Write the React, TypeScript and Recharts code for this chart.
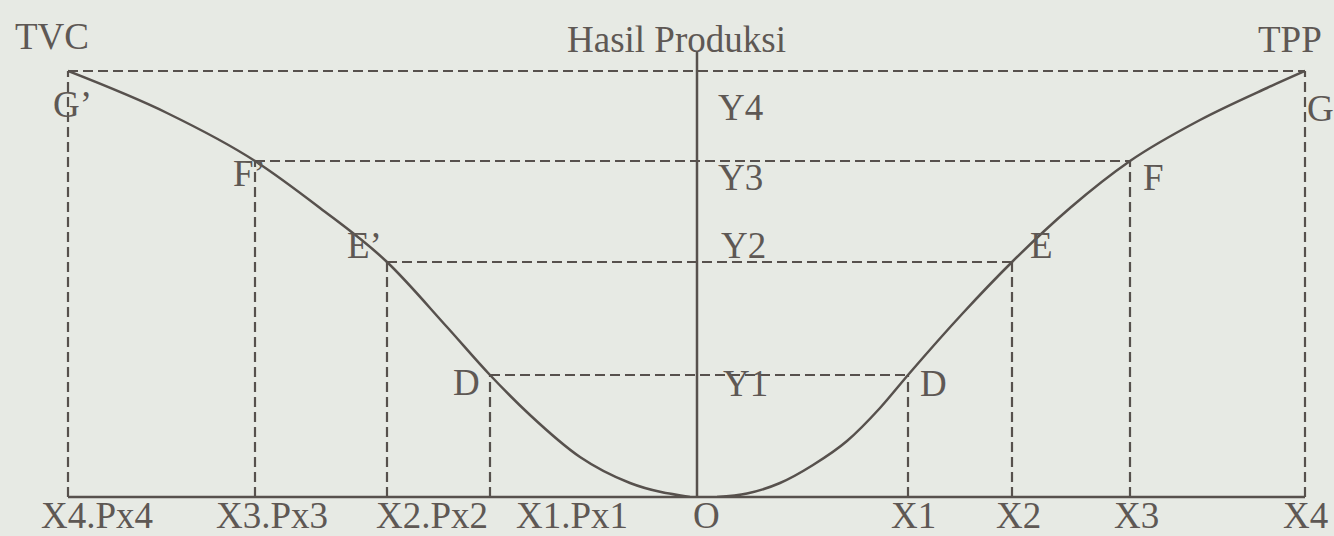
import { ComposedChart, Line, XAxis, YAxis, ReferenceLine, ReferenceDot } from "recharts";

// levels on the output axis (Hasil Produksi)
const Y1 = 12.2;
const Y2 = 23.5;
const Y3 = 33.6;
const Y4 = 42.6;
const Y_TOP = 44.5;

// input levels, left side (cost = X.Px) and right side (X)
const costX = [-62.9, -44.2, -31.0, -20.7]; // X4.Px4, X3.Px3, X2.Px2, X1.Px1
const inputX = [60.8, 43.3, 31.5, 21.1]; // X4, X3, X2, X1
const levels = [Y4, Y3, Y2, Y1];

// TVC curve (left half)
const tvcCurve = [
  { x: -62.9, y: 42.6 },
  { x: -53.0, y: 38.4 },
  { x: -44.2, y: 33.6 },
  { x: -37.7, y: 28.9 },
  { x: -31.0, y: 23.5 },
  { x: -25.0, y: 17.0 },
  { x: -20.7, y: 12.2 },
  { x: -16.7, y: 8.2 },
  { x: -11.7, y: 4.0 },
  { x: -6.7, y: 1.4 },
  { x: -0.7, y: 0 },
];

// TPP curve (right half)
const tppCurve = [
  { x: 2.0, y: 0 },
  { x: 5.0, y: 0.35 },
  { x: 8.3, y: 1.4 },
  { x: 11.6, y: 3.2 },
  { x: 15.0, y: 5.6 },
  { x: 18.3, y: 8.9 },
  { x: 21.1, y: 12.2 },
  { x: 26.6, y: 18.4 },
  { x: 31.5, y: 23.5 },
  { x: 37.3, y: 28.9 },
  { x: 43.3, y: 33.6 },
  { x: 50.3, y: 37.7 },
  { x: 57.0, y: 40.9 },
  { x: 60.8, y: 42.6 },
];

const bottomTicks = [...costX, 0, ...inputX.slice().reverse()];
const bottomLabels: Record<string, string> = {
  "-62.9": "X4.Px4",
  "-44.2": "X3.Px3",
  "-31": "X2.Px2",
  "-20.7": "X1.Px1",
  "0": "O",
  "21.1": "X1",
  "31.5": "X2",
  "43.3": "X3",
  "60.8": "X4",
};
// horizontal shift of each bottom label from its tick (px)
const bottomShift: Record<string, number> = {
  "-62.9": -27,
  "-44.2": -39,
  "-31": -11,
  "-20.7": 26,
  "0": -4,
  "21.1": -17,
  "31.5": -16,
  "43.3": -16,
  "60.8": -22,
};

// point labels: anchor in data units, text offset in px
const pointLabels = [
  { text: "TVC", x: -62.9, y: Y4, dx: -53, dy: -22 },
  { text: "Hasil Produksi", x: 0, y: Y_TOP, dx: -130, dy: 0 },
  { text: "TPP", x: 60.8, y: Y4, dx: -47, dy: -19 },
  { text: "G\u2019", x: -62.9, y: Y4, dx: -15, dy: 46 },
  { text: "F\u2019", x: -44.2, y: Y3, dx: -22, dy: 25 },
  { text: "E\u2019", x: -31.0, y: Y2, dx: -40, dy: -4 },
  { text: "D", x: -20.7, y: Y1, dx: -37, dy: 20 },
  { text: "Y4", x: 0, y: Y4, dx: 21, dy: 49 },
  { text: "Y3", x: 0, y: Y3, dx: 21, dy: 29 },
  { text: "Y2", x: 0, y: Y2, dx: 24, dy: -4 },
  { text: "Y1", x: 0, y: Y1, dx: 26, dy: 21 },
  { text: "D", x: 21.1, y: Y1, dx: 12, dy: 21 },
  { text: "E", x: 31.5, y: Y2, dx: 18, dy: -4 },
  { text: "F", x: 43.3, y: Y3, dx: 13, dy: 29 },
  { text: "G", x: 60.8, y: Y4, dx: 2, dy: 50 },
];

const INK = "#57514d";
const TEXT = "#5e5854";
const FONT = "'Liberation Serif', 'Times New Roman', serif";
const FONT_SIZE = 37;
const DASH = "10 5";

const BottomTick = (props: any) => {
  const key = String(props.payload.value);
  return (
    <text
      x={props.x + (bottomShift[key] ?? 0)}
      y={props.y + 31}
      textAnchor="start"
      fontFamily={FONT}
      fontSize={FONT_SIZE}
      fill={TEXT}
    >
      {bottomLabels[key]}
    </text>
  );
};

export default function App() {
  return (
    <div style={{ position: "absolute", left: 0, top: 0, width: 1334, height: 536, background: "#e7eae4" }}>
      <ComposedChart width={1334} height={536} margin={{ top: 52, right: 29, left: 68, bottom: 0 }}>
        <XAxis
          type="number"
          dataKey="x"
          domain={[-62.9, 60.8]}
          ticks={bottomTicks}
          interval={0}
          height={39}
          tickSize={0}
          tickMargin={0}
          tickLine={false}
          axisLine={{ stroke: INK, strokeWidth: 2.5 }}
          tick={<BottomTick />}
          allowDataOverflow
        />
        <YAxis type="number" dataKey="y" domain={[0, Y_TOP]} hide allowDataOverflow />

        {levels.map((lv, i) => (
          <ReferenceLine
            key={`h${i}`}
            segment={[
              { x: costX[i], y: lv },
              { x: inputX[i], y: lv },
            ]}
            stroke={INK}
            strokeWidth={2.2}
            strokeDasharray={DASH}
            ifOverflow="visible"
          />
        ))}
        {levels.map((lv, i) => (
          <ReferenceLine
            key={`vl${i}`}
            segment={[
              { x: costX[i], y: 0 },
              { x: costX[i], y: lv },
            ]}
            stroke={INK}
            strokeWidth={2.2}
            strokeDasharray={DASH}
            ifOverflow="visible"
          />
        ))}
        {levels.map((lv, i) => (
          <ReferenceLine
            key={`vr${i}`}
            segment={[
              { x: inputX[i], y: 0 },
              { x: inputX[i], y: lv },
            ]}
            stroke={INK}
            strokeWidth={2.2}
            strokeDasharray={DASH}
            ifOverflow="visible"
          />
        ))}
        <ReferenceLine x={0} stroke={INK} strokeWidth={2.5} ifOverflow="visible" />

        <Line
          data={tvcCurve}
          dataKey="y"
          type="monotone"
          stroke={INK}
          strokeWidth={2.5}
          dot={false}
          isAnimationActive={false}
        />
        <Line
          data={tppCurve}
          dataKey="y"
          type="monotone"
          stroke={INK}
          strokeWidth={2.5}
          dot={false}
          isAnimationActive={false}
        />

        {pointLabels.map((lb, i) => (
          <ReferenceDot
            key={`lb${i}`}
            x={lb.x}
            y={lb.y}
            r={0}
            ifOverflow="visible"
            shape={(p: any) => (
              <text
                x={p.cx + lb.dx}
                y={p.cy + lb.dy}
                textAnchor="start"
                fontFamily={FONT}
                fontSize={FONT_SIZE}
                fill={TEXT}
              >
                {lb.text}
              </text>
            )}
          />
        ))}
      </ComposedChart>
    </div>
  );
}
